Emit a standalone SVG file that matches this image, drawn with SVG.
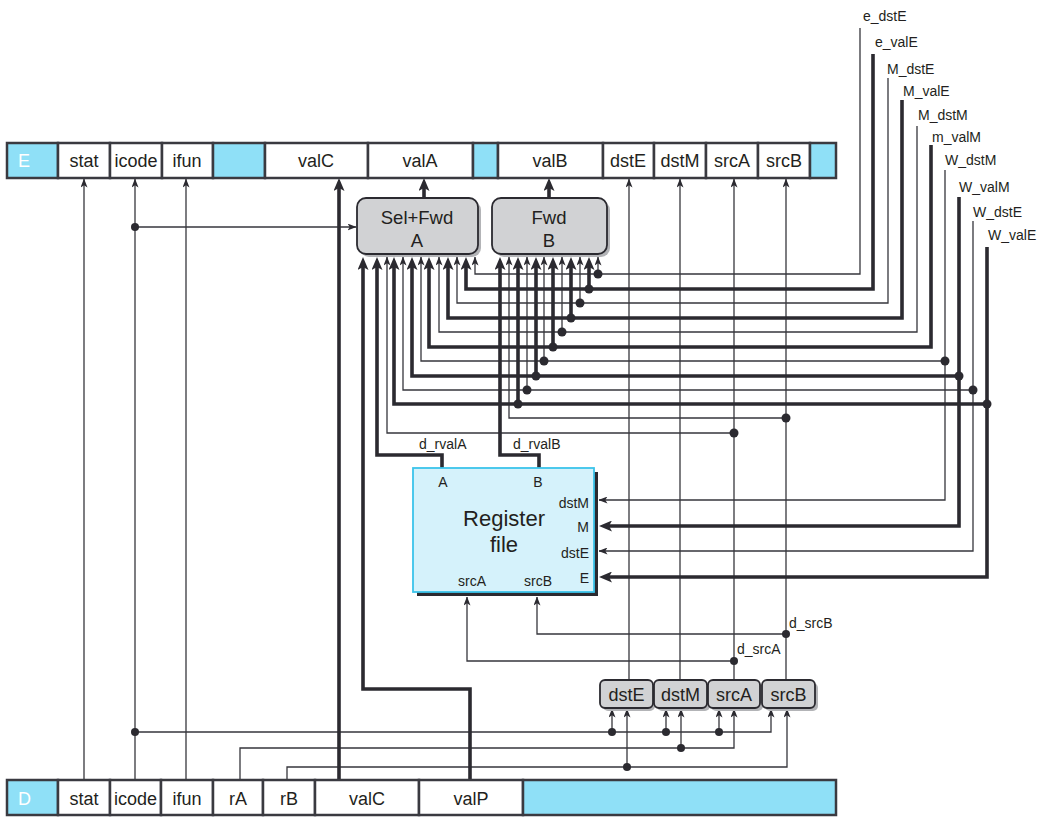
<svg xmlns="http://www.w3.org/2000/svg" width="1055" height="828" viewBox="0 0 1055 828">
<style>
text{font-family:"Liberation Sans",Arial,sans-serif;fill:#231f20}
.rl{font-size:18px;text-anchor:middle}
.wl{font-size:18px;fill:#ffffff}
.sl{font-size:14px}
.cy{fill:#8fe0f7;stroke:#3a3a40;stroke-width:2.5}
.cl{fill:#ffffff;stroke:#3a3a40;stroke-width:2.5}
.w{fill:none;stroke:#36363c;stroke-width:1.3}
.W{fill:none;stroke:#2b2a30;stroke-width:3.6;stroke-linejoin:miter}
.dot{fill:#2b2a30}
.box{fill:#d1d2d4;stroke:#2b2a30;stroke-width:1.8}
.sh{fill:#b3b4b7}
</style>
<defs>
<marker id="ah" markerUnits="userSpaceOnUse" markerWidth="9" markerHeight="7" viewBox="0 0 9 7" refX="8.5" refY="3.5" orient="auto"><path d="M0,0 L9,3.5 L0,7 L2.2,3.5 z" fill="#2b2a30"/></marker>
<marker id="ahT" markerUnits="userSpaceOnUse" markerWidth="13" markerHeight="11" viewBox="0 0 13 11" refX="7" refY="5.5" orient="auto"><path d="M0,0 L13,5.5 L0,11 L3,5.5 z" fill="#2b2a30"/></marker>
</defs>
<rect width="1055" height="828" fill="#ffffff"/>

<g id="connectors">
<g class="w" marker-end="url(#ah)">
<path d="M84,780 V179"/>
<path d="M135,780 V179"/>
<path d="M186,780 V179"/>
<path d="M135,227 H356"/>
<path d="M629,680 V179"/>
<path d="M680,680 V179"/>
<path d="M734,680 V179"/>
<path d="M786,680 V179"/>
<path d="M135,732 H771 V709"/>
<path d="M612,732 V709"/>
<path d="M666,732 V709"/>
<path d="M719,732 V709"/>
<path d="M240,780 V748 H734 V709"/>
<path d="M681,748 V709"/>
<path d="M287,780 V767 H787 V709"/>
<path d="M627,767 V709"/>
<path d="M734,661 H467 V597"/>
<path d="M786,634 H537 V597"/>
<path d="M860,28 V274 H475 V257"/>
<path d="M598,274 V257"/>
<path d="M888,78 V303 H457 V257"/>
<path d="M580,303 V257"/>
<path d="M917,126 V332 H439 V257"/>
<path d="M562,332 V257"/>
<path d="M945,170 V500 H599"/>
<path d="M945,361 H421 V257"/>
<path d="M544,361 V257"/>
<path d="M973,221 V551 H599"/>
<path d="M973,390 H403 V257"/>
<path d="M527,390 V257"/>
<path d="M786,418 H509 V257"/>
<path d="M734,433 H387 V257"/>
</g>
<g class="W" marker-end="url(#ahT)">
<path d="M339,780 V184"/>
<path d="M424,198 V184"/>
<path d="M549,198 V184"/>
<path d="M470,780 V689 H363 V263"/>
<path d="M442,468 V455 H377 V263"/>
<path d="M539,468 V455 H500 V263"/>
<path d="M873,54 V289 H466 V263"/>
<path d="M589,289 V263"/>
<path d="M902,100 V318 H448 V263"/>
<path d="M571,318 V263"/>
<path d="M931,145 V347 H429 V263"/>
<path d="M553,347 V263"/>
<path d="M959,197 V526 H605"/>
<path d="M959,376 H412 V263"/>
<path d="M536,376 V263"/>
<path d="M987,247 V577 H605"/>
<path d="M987,404 H394 V263"/>
<path d="M518,404 V263"/>
</g>
<g class="dot">
<circle cx="135" cy="227" r="4"/>
<circle cx="135" cy="732" r="4"/>
<circle cx="612" cy="732" r="4"/>
<circle cx="666" cy="732" r="4"/>
<circle cx="719" cy="732" r="4"/>
<circle cx="681" cy="748" r="4"/>
<circle cx="627" cy="767" r="4"/>
<circle cx="734" cy="661" r="4"/>
<circle cx="786" cy="634" r="4"/>
<circle cx="598" cy="274" r="4.5"/>
<circle cx="589" cy="289" r="4.5"/>
<circle cx="580" cy="303" r="4.5"/>
<circle cx="571" cy="318" r="4.5"/>
<circle cx="562" cy="332" r="4.5"/>
<circle cx="553" cy="347" r="4.5"/>
<circle cx="544" cy="361" r="4.5"/>
<circle cx="536" cy="376" r="4.5"/>
<circle cx="527" cy="390" r="4.5"/>
<circle cx="518" cy="404" r="4.5"/>
<circle cx="945" cy="361" r="4.5"/>
<circle cx="959" cy="376" r="4.5"/>
<circle cx="973" cy="390" r="4.5"/>
<circle cx="987" cy="404" r="4.5"/>
<circle cx="786" cy="418" r="4.5"/>
<circle cx="734" cy="433" r="4.5"/>
</g>
<g class="sl">
<text x="863" y="21">e_dstE</text>
<text x="875" y="47">e_valE</text>
<text x="887" y="74">M_dstE</text>
<text x="903" y="96">M_valE</text>
<text x="918" y="120">M_dstM</text>
<text x="932" y="142">m_valM</text>
<text x="945" y="165">W_dstM</text>
<text x="959" y="192">W_valM</text>
<text x="973" y="217">W_dstE</text>
<text x="988" y="240">W_valE</text>
<text x="419" y="449">d_rvalA</text>
<text x="513" y="449">d_rvalB</text>
<text x="737" y="654">d_srcA</text>
<text x="789" y="628">d_srcB</text>
</g>
</g>

<g id="E">
<rect class="cy" x="7" y="143" width="51" height="35"/>
<rect class="cl" x="58" y="143" width="52" height="35"/>
<rect class="cl" x="110" y="143" width="52" height="35"/>
<rect class="cl" x="162" y="143" width="51" height="35"/>
<rect class="cy" x="213" y="143" width="52" height="35"/>
<rect class="cl" x="265" y="143" width="103" height="35"/>
<rect class="cl" x="368" y="143" width="105" height="35"/>
<rect class="cy" x="473" y="143" width="25" height="35"/>
<rect class="cl" x="498" y="143" width="105" height="35"/>
<rect class="cl" x="603" y="143" width="51" height="35"/>
<rect class="cl" x="654" y="143" width="52" height="35"/>
<rect class="cl" x="706" y="143" width="52" height="35"/>
<rect class="cl" x="758" y="143" width="52" height="35"/>
<rect class="cy" x="810" y="143" width="26" height="35"/>
<text class="wl" x="18" y="167">E</text>
<text class="rl" x="84" y="167">stat</text>
<text class="rl" x="136" y="167">icode</text>
<text class="rl" x="187" y="167">ifun</text>
<text class="rl" x="316" y="167">valC</text>
<text class="rl" x="420" y="167">valA</text>
<text class="rl" x="550" y="167">valB</text>
<text class="rl" x="628" y="167">dstE</text>
<text class="rl" x="680" y="167">dstM</text>
<text class="rl" x="732" y="167">srcA</text>
<text class="rl" x="784" y="167">srcB</text>
</g>

<g id="D">
<rect class="cy" x="7" y="780" width="51" height="35"/>
<rect class="cl" x="58" y="780" width="52" height="35"/>
<rect class="cl" x="110" y="780" width="51" height="35"/>
<rect class="cl" x="161" y="780" width="52" height="35"/>
<rect class="cl" x="213" y="780" width="50" height="35"/>
<rect class="cl" x="263" y="780" width="52" height="35"/>
<rect class="cl" x="315" y="780" width="104" height="35"/>
<rect class="cl" x="419" y="780" width="104" height="35"/>
<rect class="cy" x="523" y="780" width="313" height="35"/>
<text class="wl" x="18" y="805">D</text>
<text class="rl" x="84" y="805">stat</text>
<text class="rl" x="135.5" y="805">icode</text>
<text class="rl" x="187" y="805">ifun</text>
<text class="rl" x="238" y="805">rA</text>
<text class="rl" x="289" y="805">rB</text>
<text class="rl" x="367" y="805">valC</text>
<text class="rl" x="471" y="805">valP</text>
</g>

<g id="selfwdA">
<rect class="sh" x="360" y="201" width="121" height="56" rx="9"/>
<rect class="box" x="357" y="198" width="121" height="56" rx="9"/>
<text x="417" y="224" font-size="18.5" text-anchor="middle">Sel+Fwd</text>
<text x="417" y="247" font-size="18.5" text-anchor="middle">A</text>
</g>

<g id="fwdB">
<rect class="sh" x="495" y="201" width="115" height="56" rx="9"/>
<rect class="box" x="492" y="198" width="115" height="56" rx="9"/>
<text x="549" y="224" font-size="18.5" text-anchor="middle">Fwd</text>
<text x="549" y="247" font-size="18.5" text-anchor="middle">B</text>
</g>

<g id="regfile">
<rect x="417" y="472" width="181" height="124" fill="#2b2a30"/>
<rect x="413" y="468" width="181" height="124" fill="#d5f2fb" stroke="#3bc4ea" stroke-width="1.8"/>
<text x="443" y="487" font-size="14" text-anchor="middle">A</text>
<text x="538" y="487" font-size="14" text-anchor="middle">B</text>
<text x="504" y="526" font-size="22" text-anchor="middle">Register</text>
<text x="504" y="552" font-size="22" text-anchor="middle">file</text>
<text x="589" y="508" font-size="14" text-anchor="end">dstM</text>
<text x="589" y="532" font-size="14" text-anchor="end">M</text>
<text x="589" y="558" font-size="14" text-anchor="end">dstE</text>
<text x="589" y="583" font-size="14" text-anchor="end">E</text>
<text x="472" y="586" font-size="14" text-anchor="middle">srcA</text>
<text x="538" y="586" font-size="14" text-anchor="middle">srcB</text>
</g>

<g id="dstE">
<rect class="sh" x="603" y="683" width="52" height="28" rx="5"/>
<rect class="box" x="600" y="680" width="53" height="28" rx="5"/>
<text class="rl" x="626.5" y="701">dstE</text>
</g>
<g id="dstM">
<rect class="sh" x="657" y="683" width="53" height="28" rx="5"/>
<rect class="box" x="654" y="680" width="53" height="28" rx="5"/>
<text class="rl" x="680.5" y="701">dstM</text>
</g>
<g id="srcA">
<rect class="sh" x="711" y="683" width="52" height="28" rx="5"/>
<rect class="box" x="708" y="680" width="52" height="28" rx="5"/>
<text class="rl" x="734" y="701">srcA</text>
</g>
<g id="srcB">
<rect class="sh" x="765" y="683" width="53" height="28" rx="5"/>
<rect class="box" x="762" y="680" width="53" height="28" rx="5"/>
<text class="rl" x="788.5" y="701">srcB</text>
</g>
</svg>
